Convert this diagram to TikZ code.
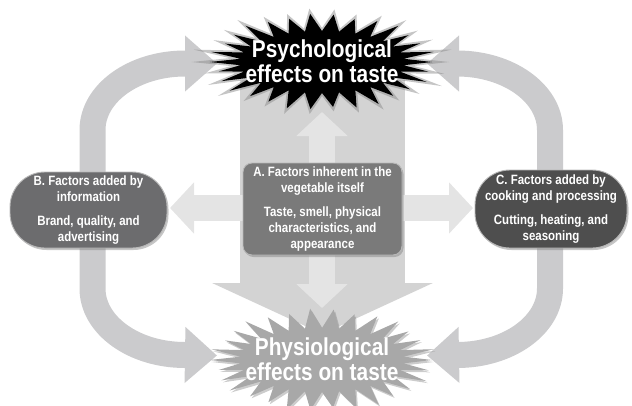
\documentclass[tikz,border=0pt]{standalone}
\usepackage{fontspec}
\setmainfont{Liberation Sans}[FakeStretch=0.85]
\usetikzlibrary{shadows,arrows.meta,backgrounds}
\definecolor{arcgray}{HTML}{CBCBCD}
\definecolor{biggray}{HTML}{D3D3D3}
\definecolor{innergray}{HTML}{E4E4E4}
\definecolor{boxA}{HTML}{7A7A7A}
\definecolor{boxB}{HTML}{6C6C6E}
\definecolor{boxC}{HTML}{4E4E4E}
\definecolor{starB}{HTML}{A8A8A8}
\newcommand{\burst}[7]{%
  \path[#7] ({#1+#3},{#2}) \foreach \i in {1,...,59}{
    -- ({#1+ifthenelse(isodd(\i),#5,#3*(1+0.04*sin(\i*53)))*cos(\i*6)},
        {#2+ifthenelse(isodd(\i),#6,#4*(1+0.04*sin(\i*53)))*sin(\i*6)})} -- cycle;}
\begin{document}
\begin{tikzpicture}[x=1pt,y=1pt,
  band/.style={draw=arcgray, line width=26pt, -{Triangle[width=54pt,length=32pt]}},
  innerarrow/.style={draw=innergray, line width=26pt, -{Triangle[width=50pt,length=24pt]}},
  factorbox/.style={draw=white!72!black, line width=0.9pt, text=white,
    font=\bfseries\fontsize{13.5}{16}\selectfont, align=center, inner sep=0pt,
    drop shadow={opacity=0.45, shadow xshift=1.5pt, shadow yshift=-2pt}},
  startext/.style={text=white, font=\bfseries\fontsize{24.5}{25}\selectfont, align=center, inner sep=0pt}
]
\useasboundingbox (0,0) rectangle (632,-405);
\clip (0,0) rectangle (632,-405);

% factor boxes
\node[factorbox, fill=boxA, minimum width=159pt, minimum height=92pt, rounded corners=9pt] (A) at (322.5,-209)
  {A. Factors inherent in the\\vegetable itself\\[8pt]Taste, smell, physical\\characteristics, and\\appearance};
\node[factorbox, fill=boxB, minimum width=157pt, minimum height=76pt, rounded corners=35pt] (B) at (88.5,-210)
  {B. Factors added by\\information\\[8pt]Brand, quality, and\\advertising};
\node[factorbox, fill=boxC, minimum width=152pt, minimum height=78pt, rounded corners=35pt] (C) at (551,-209)
  {C. Factors added by\\cooking and processing\\[8pt]Cutting, heating, and\\seasoning};

% top star
\burst{322}{-62}{111}{48}{82}{31}{draw=black!45, line width=3.5pt, opacity=0.5, line join=miter}
\burst{322}{-62}{110}{47}{82}{31}{fill=black}
\node[startext] (psy) at (322,-61) {Psychological\\effects on taste};

% bottom star
\burst{322}{-360}{110}{50}{82}{32}{fill=starB, drop shadow={opacity=0.4, shadow xshift=1.5pt, shadow yshift=-2pt}}
\node[startext] (phys) at (322,-359) {Physiological\\effects on taste};

\coordinate (upTip) at (322,-112);
\coordinate (downTip) at (322,-308);
\coordinate (bigTop) at (322.5,-80);
\coordinate (bigTip) at (322.5,-334);

\begin{pgfonlayer}{background}
  % big downward arrow
  \draw[draw=biggray, line width=165pt, -{Triangle[width=219pt,length=51pt]}] (bigTop) -- (bigTip);
  % left loops (B)
  \draw[band] ([xshift=4pt]B.center) -- (92.5,-130)
     arc[start angle=180, end angle=90, x radius=92.5, y radius=66.5] -- (217,-63.5);
  \draw[band] ([xshift=4pt]B.center) -- (92.5,-288.5)
     arc[start angle=180, end angle=270, x radius=92.5, y radius=66.5] -- (217,-355.5);
  % right loops (C)
  \draw[band] ([xshift=-1pt]C.center) -- (550,-130)
     arc[start angle=0, end angle=90, x radius=93, y radius=66.5] -- (427,-63.5);
  \draw[band] ([xshift=-1pt]C.center) -- (550,-288.5)
     arc[start angle=0, end angle=-90, x radius=93, y radius=66.5] -- (427,-355.5);
  % inner light arrows from A
  \draw[innerarrow] ([xshift=-0.5pt]A.center) -- (upTip);
  \draw[innerarrow] ([xshift=-0.5pt]A.center) -- (downTip);
  \draw[innerarrow] ([yshift=1pt]A.center) -- (170,-208);
  \draw[innerarrow] ([yshift=1pt]A.center) -- (473,-208);
\end{pgfonlayer}
\end{tikzpicture}
\end{document}
